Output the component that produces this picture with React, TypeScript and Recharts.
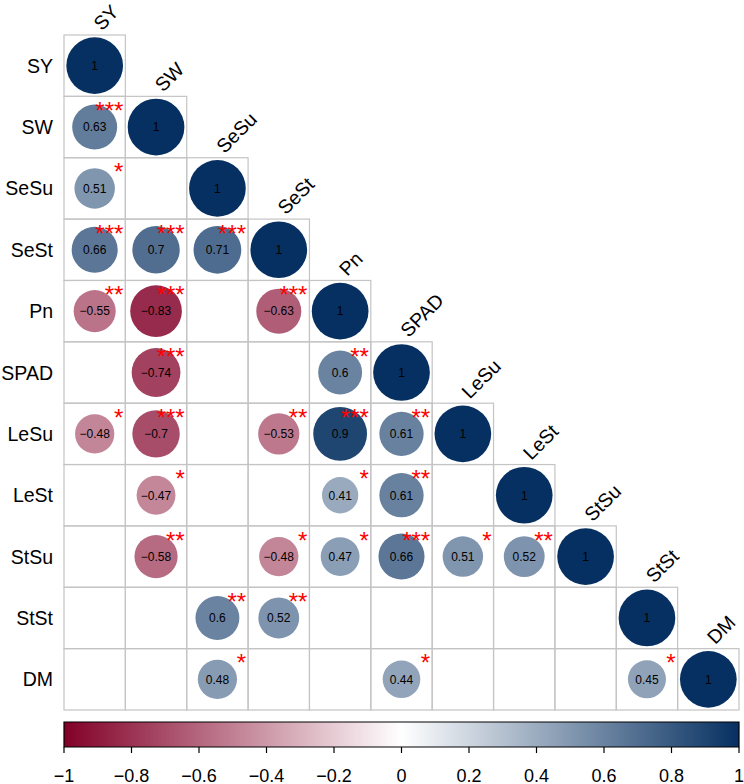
import { ScatterChart, Scatter, XAxis, YAxis, ReferenceArea } from 'recharts';

const vars = ['SY', 'SW', 'SeSu', 'SeSt', 'Pn', 'SPAD', 'LeSu', 'LeSt', 'StSu', 'StSt', 'DM'];

// lower triangle, row by row (null = not significant, left blank)
const corrRows: (number | null)[][] = [
  [1],
  [0.63, 1],
  [0.51, null, 1],
  [0.66, 0.7, 0.71, 1],
  [-0.55, -0.83, null, -0.63, 1],
  [null, -0.74, null, null, 0.6, 1],
  [-0.48, -0.7, null, -0.53, 0.9, 0.61, 1],
  [null, -0.47, null, null, 0.41, 0.61, null, 1],
  [null, -0.58, null, -0.48, 0.47, 0.66, 0.51, 0.52, 1],
  [null, null, 0.6, 0.52, null, null, null, null, null, 1],
  [null, null, 0.48, null, null, 0.44, null, null, null, 0.45, 1],
];

// number of stars per cell
const starRows: number[][] = [
  [0],
  [3, 0],
  [1, 0, 0],
  [3, 3, 3, 0],
  [2, 3, 0, 3, 0],
  [0, 3, 0, 0, 2, 0],
  [1, 3, 0, 2, 3, 2, 0],
  [0, 1, 0, 0, 1, 2, 0, 0],
  [0, 2, 0, 1, 1, 3, 1, 2, 0],
  [0, 0, 2, 2, 0, 0, 0, 0, 0, 0],
  [0, 0, 1, 0, 0, 1, 0, 0, 0, 1, 0],
];

const barTicks = [-1, -0.8, -0.6, -0.4, -0.2, 0, 0.2, 0.4, 0.6, 0.8, 1];

const NEG = [130, 0, 40];
const POS = [6, 48, 97];
const FONT = '"Liberation Sans", Arial, Helvetica, sans-serif';

const W = 744;
const H = 784;
const TOP = 35;
const LEFT = 64;
const RIGHT = 5;
const CELL = (W - LEFT - RIGHT) / 11;
const RMAX = CELL * 0.462;
const BAR_TOP = 722;
const BAR_BOTTOM = 747;

function colorOf(v: number) {
  const end = v < 0 ? NEG : POS;
  const t = Math.abs(v);
  const c = end.map((e) => Math.round(255 - t * (255 - e)));
  return `rgb(${c[0]},${c[1]},${c[2]})`;
}

const fmt = (v: number) => String(v).replace('-', '\u2212');

const cells: any[] = [];
const circles: any[] = [];
corrRows.forEach((row, i) => {
  row.forEach((v, j) => {
    cells.push({ x: j + 0.5, y: i + 0.5 });
    if (v !== null) circles.push({ x: j + 0.5, y: i + 0.5, v, s: starRows[i][j] });
  });
});
const diag = vars.map((name, i) => ({ x: i + 0.5, y: i + 0.5, name }));

const yMax = (BAR_BOTTOM - TOP) / CELL;
const barY1 = (BAR_TOP - TOP) / CELL;
const tickPts = barTicks.map((v) => ({ x: v, y: yMax }));

const CellShape = (p: any) => (
  <rect
    x={p.cx - CELL / 2}
    y={p.cy - CELL / 2}
    width={CELL}
    height={CELL}
    fill="none"
    stroke="#c4c4c4"
    strokeWidth={1.2}
  />
);

const CircleShape = (p: any) => {
  const { v, s } = p.payload;
  const r = Math.sqrt(Math.abs(v)) * RMAX;
  return (
    <g>
      <circle cx={p.cx} cy={p.cy} r={r} fill={colorOf(v)} />
      <text x={p.cx} y={p.cy + 4.3} textAnchor="middle" fontSize={12} fontFamily={FONT} fill="#000">
        {fmt(v)}
      </text>
      {s > 0 && (
        <text
          x={p.cx + CELL / 2 - 2}
          y={p.cy - 8}
          textAnchor="end"
          fontSize={24}
          fontFamily={FONT}
          fill="#ff0000"
        >
          {'*'.repeat(s)}
        </text>
      )}
    </g>
  );
};

const ColLabel = (p: any) => {
  const x = p.cx + 7;
  const y = p.cy - CELL / 2 - 3.5;
  return (
    <text x={x} y={y} transform={`rotate(-45 ${x} ${y})`} fontSize={19.5} fontFamily={FONT} fill="#000">
      {p.payload.name}
    </text>
  );
};

const RowTick = (p: any) => {
  const i = Math.floor(p.payload.value);
  return (
    <text x={LEFT - 11} y={p.y + 7} textAnchor="end" fontSize={19.5} fontFamily={FONT} fill="#000">
      {vars[i]}
    </text>
  );
};

// colour bar ticks: mark below the bar and the label
const BarTick = (p: any) => (
  <g>
    <line x1={p.cx} x2={p.cx} y1={p.cy} y2={p.cy + 6} stroke="#000" strokeWidth={1.2} />
    <text x={p.cx} y={p.cy + 34.5} textAnchor="middle" fontSize={18} fontFamily={FONT} fill="#000">
      {fmt(p.payload.x)}
    </text>
  </g>
);

export default function App() {
  return (
    <div style={{ position: 'absolute', left: 0, top: 0, background: '#fff' }}>
      <ScatterChart width={W} height={H} margin={{ top: TOP, right: RIGHT, bottom: H - BAR_BOTTOM, left: 0 }}>
        <defs>
          <linearGradient id="cbGrad" x1="0" y1="0" x2="1" y2="0">
            <stop offset="0%" stopColor={colorOf(-1)} />
            <stop offset="50%" stopColor={colorOf(0)} />
            <stop offset="100%" stopColor={colorOf(1)} />
          </linearGradient>
        </defs>
        <XAxis xAxisId="g" type="number" dataKey="x" domain={[0, 11]} hide />
        <XAxis xAxisId="cb" type="number" dataKey="x" domain={[-1, 1]} hide />
        <YAxis
          type="number"
          dataKey="y"
          domain={[0, yMax]}
          reversed
          width={LEFT}
          ticks={vars.map((_, i) => i + 0.5)}
          axisLine={false}
          tickLine={false}
          tick={<RowTick />}
          interval={0}
        />
        <ReferenceArea
          xAxisId="cb"
          x1={-1}
          x2={1}
          y1={barY1}
          y2={yMax}
          fill="url(#cbGrad)"
          fillOpacity={1}
          stroke="#000"
          strokeWidth={1.2}
          ifOverflow="visible"
        />
        <Scatter xAxisId="cb" data={tickPts} shape={<BarTick />} isAnimationActive={false} />
        <Scatter xAxisId="g" data={cells} shape={<CellShape />} isAnimationActive={false} />
        <Scatter xAxisId="g" data={circles} shape={<CircleShape />} isAnimationActive={false} />
        <Scatter xAxisId="g" data={diag} shape={<ColLabel />} isAnimationActive={false} />
      </ScatterChart>
    </div>
  );
}
